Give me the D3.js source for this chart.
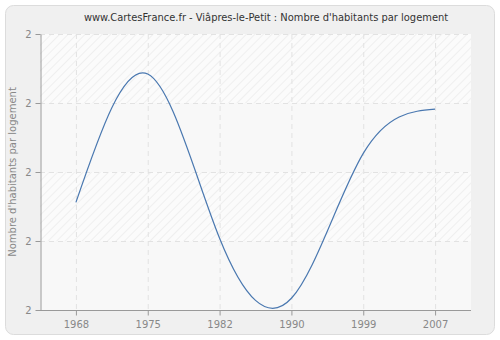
<!DOCTYPE html>
<html>
<head>
<meta charset="utf-8">
<script src="https://cdn.jsdelivr.net/npm/d3@7"></script>
<style>
  body { margin: 0; background: #ffffff; }
  svg { display: block; }
</style>
</head>
<body>
<svg id="chart" width="500" height="340"></svg>
<script>
const annees = ["1968", "1975", "1982", "1990", "1999", "2007"];
const habitantsParLogement = [1.956, 2.142, 1.904, 1.817, 2.027, 2.091];
const graduationsY = [1.8, 1.9, 2.0, 2.1, 2.2];

const titre = "www.CartesFrance.fr - Viâpres-le-Petit : Nombre d'habitants par logement";
const titreAxeY = "Nombre d'habitants par logement";

const largeur = 500, hauteur = 340;
const marge = { haut: 34, droite: 29, bas: 30, gauche: 40 };

const svg = d3.select("#chart");

// fond du cadre
svg.append("rect")
    .attr("x", 5.5).attr("y", 5.5)
    .attr("width", largeur - 11).attr("height", hauteur - 11)
    .attr("rx", 8)
    .attr("fill", "#f0f0f0")
    .attr("stroke", "#dcdcdc");

const defs = svg.append("defs");
const motif = defs.append("pattern")
    .attr("id", "hachures")
    .attr("patternUnits", "userSpaceOnUse")
    .attr("width", 6).attr("height", 6)
    .attr("patternTransform", "rotate(45)");
motif.append("rect").attr("width", 6).attr("height", 6).attr("fill", "#fbfbfb");
motif.append("line")
    .attr("x1", 0).attr("y1", 0).attr("x2", 0).attr("y2", 6)
    .attr("stroke", "#ebebeb").attr("stroke-width", 1.5);

const x = d3.scalePoint()
    .domain(annees)
    .range([marge.gauche, largeur - marge.droite])
    .padding(0.5);

const y = d3.scaleLinear()
    .domain([graduationsY[0], graduationsY[graduationsY.length - 1]])
    .range([hauteur - marge.bas, marge.haut]);

// zone de tracé : bandes alternées
const bandes = d3.pairs(graduationsY);
svg.append("g").selectAll("rect")
    .data(bandes)
    .join("rect")
    .attr("x", marge.gauche)
    .attr("y", d => y(d[1]))
    .attr("width", largeur - marge.droite - marge.gauche)
    .attr("height", d => y(d[0]) - y(d[1]))
    .attr("fill", (d, i) => i % 2 === 0 ? "#f8f8f8" : "url(#hachures)");

// grille
const grille = svg.append("g")
    .attr("stroke", "#e2e2e2")
    .attr("stroke-dasharray", "5,4");
grille.selectAll("line.v")
    .data(annees)
    .join("line")
    .attr("x1", d => x(d) + 0.5).attr("x2", d => x(d) + 0.5)
    .attr("y1", marge.haut).attr("y2", hauteur - marge.bas);
grille.selectAll("line.h")
    .data(graduationsY.slice(1))
    .join("line")
    .attr("x1", marge.gauche).attr("x2", largeur - marge.droite)
    .attr("y1", d => Math.round(y(d)) + 0.5).attr("y2", d => Math.round(y(d)) + 0.5);

// axes
const axeX = svg.append("g")
    .attr("transform", `translate(0,${hauteur - marge.bas + 0.5})`)
    .call(d3.axisBottom(x).tickSize(5).tickPadding(5).tickSizeOuter(0));
const axeY = svg.append("g")
    .attr("transform", `translate(${marge.gauche + 0.5},0)`)
    .call(d3.axisLeft(y).tickValues(graduationsY).tickFormat(d3.format(".0f")).tickSize(5).tickPadding(4).tickSizeOuter(0));

[axeX, axeY].forEach(a => {
    a.select(".domain").attr("stroke", "#999");
    a.selectAll(".tick line").attr("stroke", "#999");
    a.selectAll("text")
        .attr("fill", "#888")
        .attr("font-family", "DejaVu Sans, sans-serif")
        .attr("font-size", 10);
});
axeX.select(".domain").attr("d", `M${marge.gauche},0H${largeur - marge.droite}`);

// courbe
const ligne = d3.line()
    .x((d, i) => x(annees[i]))
    .y(d => y(d))
    .curve(d3.curveNatural);

svg.append("path")
    .datum(habitantsParLogement)
    .attr("fill", "none")
    .attr("stroke", "#4a78b0")
    .attr("stroke-width", 1.2)
    .attr("d", ligne);

// titres
svg.append("text")
    .attr("x", 266).attr("y", 21)
    .attr("text-anchor", "middle")
    .attr("font-family", "DejaVu Sans Condensed, DejaVu Sans, sans-serif")
    .attr("font-stretch", "condensed")
    .attr("font-size", 11)
    .attr("fill", "#333")
    .text(titre);

svg.append("text")
    .attr("transform", `translate(16,${(marge.haut + hauteur - marge.bas) / 2}) rotate(-90)`)
    .attr("text-anchor", "middle")
    .attr("font-family", "DejaVu Sans, sans-serif")
    .attr("font-size", 10)
    .attr("fill", "#888")
    .text(titreAxeY);
</script>
</body>
</html>
